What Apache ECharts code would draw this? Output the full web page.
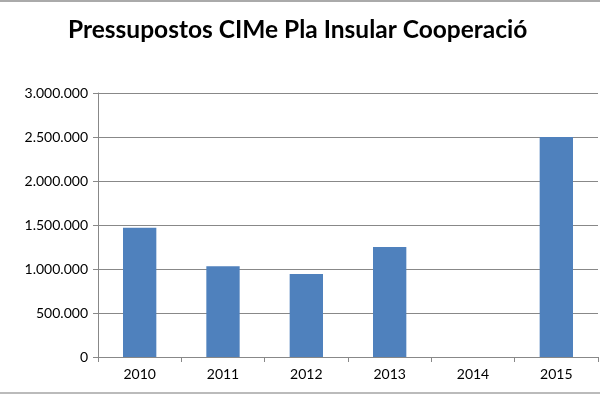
<!DOCTYPE html>
<html>
<head>
<meta charset="utf-8">
<script src="https://cdn.jsdelivr.net/npm/echarts@6/dist/echarts.min.js"></script>
<style>
  html, body { margin: 0; padding: 0; background: #fff; }
  #chart { width: 600px; height: 400px; }
</style>
</head>
<body>
<div id="chart"></div>
<script>
const years = ['2010', '2011', '2012', '2013', '2014', '2015'];
const budget = [1470000, 1030000, 943000, 1250000, 0, 2500000];

const fmt = v => String(v).replace(/\B(?=(\d{3})+(?!\d))/g, '.');

const chart = echarts.init(document.getElementById('chart'));
chart.setOption({
  animation: false,
  textStyle: { fontFamily: 'Lato' },
  title: {
    text: 'Pressupostos CIMe Pla Insular Cooperació',
    left: 63,
    top: 13,
    textStyle: { fontFamily: 'Lato', fontSize: 24.5, fontWeight: 'bold', color: '#000' }
  },
  graphic: [
    { type: 'line', shape: { x1: 0, y1: 1, x2: 600, y2: 1 }, style: { stroke: '#aaa', lineWidth: 2 } },
    { type: 'line', shape: { x1: 0, y1: 393, x2: 600, y2: 393 }, style: { stroke: '#bbb', lineWidth: 2 } }
  ],
  grid: { left: 98, right: 2, top: 93, bottom: 43 },
  xAxis: {
    type: 'category',
    data: years,
    axisLine: { lineStyle: { color: '#888' } },
    axisTick: { show: true, length: 5, lineStyle: { color: '#888' } },
    axisLabel: { color: '#000', fontSize: 14, margin: 10 }
  },
  yAxis: {
    type: 'value',
    min: 0,
    max: 3000000,
    interval: 500000,
    axisLine: { show: true, lineStyle: { color: '#888' } },
    axisTick: { show: true, length: 5, lineStyle: { color: '#888' } },
    splitLine: { lineStyle: { color: '#888' } },
    axisLabel: { color: '#000', fontSize: 14, margin: 10, formatter: fmt }
  },
  series: [{
    type: 'bar',
    data: budget,
    barWidth: '40%',
    itemStyle: { color: '#4f81bd' }
  }]
});
</script>
</body>
</html>
